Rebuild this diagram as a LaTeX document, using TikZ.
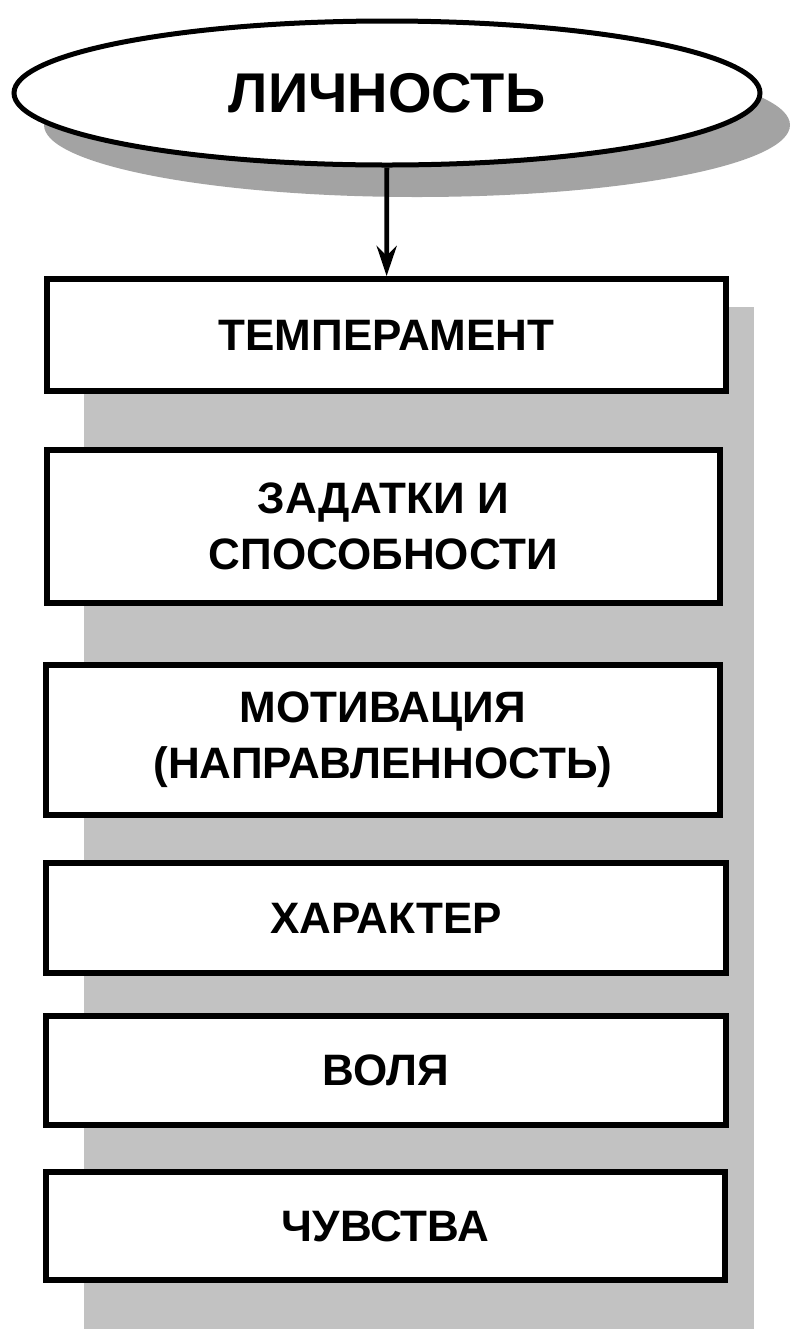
\documentclass[tikz,border=0pt]{standalone}
\usepackage{fontspec}
\setmainfont{Liberation Sans}
\usetikzlibrary{arrows.meta,positioning,shapes.geometric}

\begin{document}
\begin{tikzpicture}[x = 0.5pt, y = -0.5pt,
  blok/.style = {draw, fill = white, line width = 3pt, inner sep = 0pt,
    align = center, font = \bfseries\fontsize{22}{28}\selectfont},
  ten/.style = {fill = black!24}]
\useasboundingbox (0,0) rectangle (798,1329);
% shadows
\fill[ten] (84,307) rectangle (754,1329);
\fill[black!36] (417,125) ellipse [x radius = 186.5pt, y radius = 36pt];
% top
\node[ellipse, draw, fill = white, line width = 2.5pt, inner sep = 0pt,
  minimum width = 373pt, minimum height = 72pt,
  font = \bfseries\fontsize{28}{32}\selectfont] (lichnost) at (387,93) {ЛИЧНОСТЬ};
% boxes
\node[blok, minimum width = 339.5pt, minimum height = 56pt] (temperament) at (386.5,335) {ТЕМПЕРАМЕНТ};
\node[blok, minimum width = 336.5pt, minimum height = 76.5pt] (zadatki) at (383.5,526.5) {ЗАДАТКИ И\\СПОСОБНОСТИ};
\node[blok, minimum width = 337pt, minimum height = 75pt] (motiv) at (383,740) {МОТИВАЦИЯ\\(НАПРАВЛЕННОСТЬ)};
\node[blok, minimum width = 340pt, minimum height = 55pt] (harakter) at (386,918) {ХАРАКТЕР};
\node[blok, minimum width = 340pt, minimum height = 54.5pt] (volya) at (386,1070.5) {ВОЛЯ};
\node[blok, minimum width = 339.5pt, minimum height = 54pt] (chuvstva) at (385.5,1226) {ЧУВСТВА};
\draw[-{Stealth[length = 15pt, width = 10pt]}, line width = 2.4pt] (lichnost) -- (temperament);
\end{tikzpicture}
\end{document}
